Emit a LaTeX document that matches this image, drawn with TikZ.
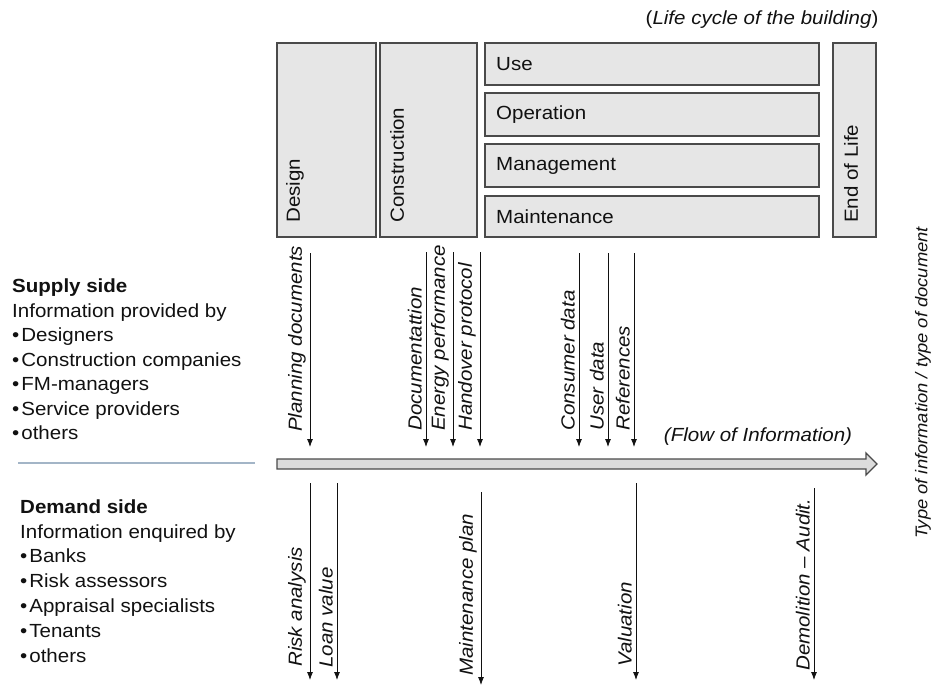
\documentclass[tikz,border=0pt]{standalone}
\usepackage{fontspec}
\setmainfont{Liberation Sans}[FakeStretch=1.08]
\usetikzlibrary{arrows.meta}
\definecolor{boxfill}{HTML}{E6E6E6}
\definecolor{boxline}{HTML}{4A4A4A}
\definecolor{ink}{HTML}{111111}
\definecolor{sepline}{HTML}{A3B5C7}
\definecolor{flowfill}{HTML}{DCDCDC}
\begin{document}
\begin{tikzpicture}[x=1pt,y=1pt,
  phase/.style={draw=boxline, fill=boxfill, line width=1.3pt, anchor=north west, inner sep=0pt, outer sep=0pt},
  lbl/.style={font=\fontsize{19}{22}\selectfont, text=ink, inner sep=0pt},
  ilbl/.style={font=\fontsize{19}{22}\selectfont\itshape, text=ink, inner sep=0pt},
  rlbl/.style={lbl, rotate=90, anchor=west},
  flowlbl/.style={ilbl, rotate=90, anchor=south west, inner sep=1pt},
  sidelbl/.style={lbl, anchor=base west},
  infoarrow/.style={draw=ink, line width=0.8pt, -{Latex[length=8pt,width=6pt]}},
  ]
\useasboundingbox (0,0) rectangle (936,-687);

% life cycle phases
\node[phase, minimum width=99pt, minimum height=194pt] (design) at (277,-43) {};
\node[phase, minimum width=97pt, minimum height=194pt] (construction) at (380,-43) {};
\node[phase, minimum width=334pt, minimum height=42pt] (use) at (485,-43) {};
\node[phase, minimum width=334pt, minimum height=43pt] (operation) at (485,-93) {};
\node[phase, minimum width=334pt, minimum height=43pt] (management) at (485,-144) {};
\node[phase, minimum width=334pt, minimum height=41pt] (maintenance) at (485,-196) {};
\node[phase, minimum width=43pt, minimum height=194pt] (endoflife) at (833,-43) {};

\node[rlbl] (tdesign) at (295,-223) {Design};
\node[rlbl] (tconstruction) at (397,-223) {Construction};
\node[rlbl] (tendoflife) at (851,-223) {End of Life};
\node[lbl, anchor=west, xshift=11pt] (tuse) at (use.west) {Use};
\node[lbl, anchor=west, xshift=11pt] (toperation) at (operation.west) {Operation};
\node[lbl, anchor=west, xshift=11pt] (tmanagement) at (management.west) {Management};
\node[lbl, anchor=west, xshift=11pt] (tmaintenance) at (maintenance.west) {Maintenance};

\node[lbl] (lifecycle) at (762,-20) {(\textit{Life cycle of the building})};

% flow of information
\draw[draw=boxline, fill=flowfill, line width=1.3pt]
  (277,-459) -- (866,-459) -- (866,-453) -- (877,-464) -- (866,-475) -- (866,-469) -- (277,-469) -- cycle;
\node[ilbl] (flowinfo) at (758,-437) {(Flow of Information)};

% information arrows
\foreach \n/\x/\t/\b/\lb/\txt in {
  pd/310/253/447/433/Planning documents,
  doc/426/252/447/432/Documentattion,
  en/453/252/447/432/Energy performance,
  ho/480/252/447/432/Handover protocol,
  cd/579/253/447/432/Consumer data,
  ud/608/253/447/432/User data,
  rf/634/253/447/432/References,
  ra/310/483/680/668/Risk analysis,
  lv/337/483/680/669/Loan value,
  mp/481/492/685/677/Maintenance plan,
  va/636/483/680/668/Valuation,
  da/814/488/680/672/Demolition – Audit.}{
  \coordinate (\n-t) at (\x,-\t);
  \coordinate (\n-b) at (\x,-\b);
  \draw[infoarrow] (\n-t) -- (\n-b);
  \node[flowlbl] (\n-l) at (\x-3,-\lb) {\txt};
}

% separator
\coordinate (sepL) at (18,-463);
\coordinate (sepR) at (255,-463);
\draw[sepline, line width=1.5pt] (sepL) -- (sepR);

% supply side text
\node[sidelbl, font=\fontsize{19}{22}\selectfont\bfseries] (s0) at (12,-292) {Supply side};
\node[sidelbl] (s1) at (12,-317) {Information provided by};
\node[sidelbl] (s2) at (12,-341) {•\hspace{2pt}Designers};
\node[sidelbl] (s3) at (12,-366) {•\hspace{2pt}Construction companies};
\node[sidelbl] (s4) at (12,-390) {•\hspace{2pt}FM-managers};
\node[sidelbl] (s5) at (12,-415) {•\hspace{2pt}Service providers};
\node[sidelbl] (s6) at (12,-439) {•\hspace{2pt}others};

% demand side text
\node[sidelbl, font=\fontsize{19}{22}\selectfont\bfseries] (d0) at (20,-513) {Demand side};
\node[sidelbl] (d1) at (20,-538) {Information enquired by};
\node[sidelbl] (d2) at (20,-562) {•\hspace{2pt}Banks};
\node[sidelbl] (d3) at (20,-587) {•\hspace{2pt}Risk assessors};
\node[sidelbl] (d4) at (20,-612) {•\hspace{2pt}Appraisal specialists};
\node[sidelbl] (d5) at (20,-637) {•\hspace{2pt}Tenants};
\node[sidelbl] (d6) at (20,-662) {•\hspace{2pt}others};

% right axis label
\node[ilbl, rotate=90, font=\fontsize{17}{20}\selectfont\itshape] (typeinfo) at (923,-383) {Type of information / type of document};
\end{tikzpicture}
\end{document}
